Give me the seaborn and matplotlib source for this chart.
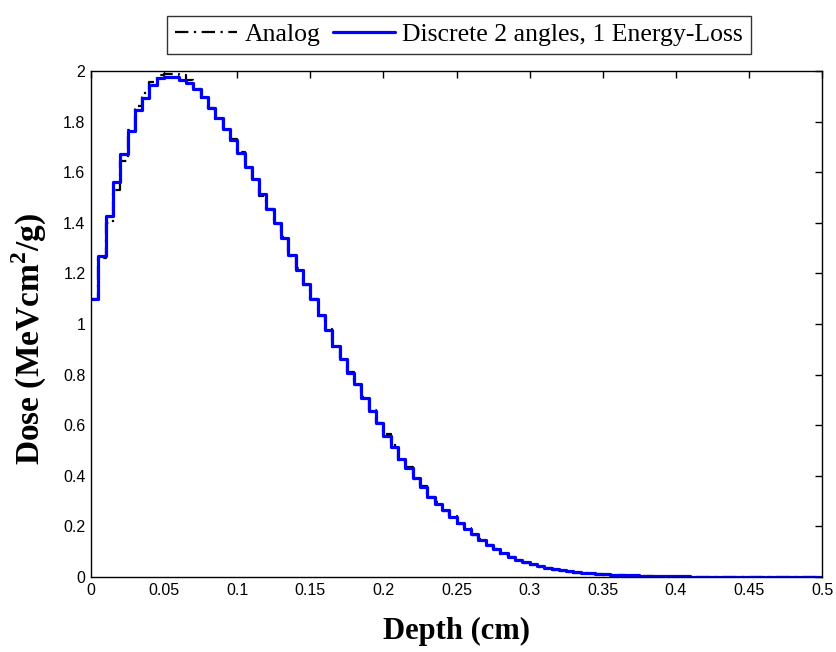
import numpy as np
import pandas as pd
import matplotlib
matplotlib.use("Agg")
import matplotlib.pyplot as plt
import seaborn as sns

# ---- data (bin values, bin width 0.005 cm, 100 bins from 0 to 0.5) ----
bin_width = 0.005
discrete = [
    1.100, 1.270, 1.425, 1.562, 1.672, 1.762, 1.846, 1.895, 1.946, 1.972,
    1.978, 1.975, 1.966, 1.952, 1.928, 1.898, 1.852, 1.816, 1.772, 1.726,
    1.675, 1.622, 1.572, 1.512, 1.454, 1.398, 1.340, 1.272, 1.215, 1.160,
    1.097, 1.035, 0.975, 0.915, 0.862, 0.808, 0.762, 0.708, 0.655, 0.610,
    0.557, 0.515, 0.465, 0.429, 0.390, 0.354, 0.318, 0.290, 0.263, 0.237,
    0.212, 0.190, 0.168, 0.147, 0.128, 0.111, 0.095, 0.081, 0.069, 0.058,
    0.050, 0.042, 0.036, 0.031, 0.026, 0.022, 0.019, 0.016, 0.014, 0.012,
    0.010, 0.009, 0.008, 0.007, 0.006, 0.005, 0.003, 0.002, 0.002, 0.002,
    0.002, 0.002, 0.001, 0.001, 0.001, 0.001, 0.001, 0.001, 0.001, 0.001,
    0.001, 0.001, 0.001, 0.001, 0.001, 0.001, 0.001, 0.001, 0.001, 0.001,
]
analog = [
    1.100, 1.260, 1.400, 1.530, 1.645, 1.765, 1.860, 1.915, 1.955, 1.985,
    1.990, 1.990, 1.985, 1.965, 1.930, 1.895, 1.855, 1.812, 1.770, 1.730,
    1.680, 1.620, 1.575, 1.505, 1.456, 1.395, 1.345, 1.270, 1.220, 1.155,
    1.100, 1.030, 0.980, 0.910, 0.865, 0.812, 0.760, 0.712, 0.660, 0.610,
    0.565, 0.520, 0.462, 0.435, 0.388, 0.360, 0.315, 0.295, 0.262, 0.240,
    0.210, 0.192, 0.165, 0.150, 0.126, 0.112, 0.092, 0.080, 0.066, 0.056,
    0.048, 0.040, 0.034, 0.028, 0.024, 0.020, 0.017, 0.014, 0.012, 0.010,
    0.008, 0.007, 0.006, 0.005, 0.004, 0.003, 0.002, 0.001, 0.001, 0.001,
    0.001, 0.001, 0.001, 0.001, 0.001, 0.001, 0.001, 0.001, 0.000, 0.000,
    0.000, 0.000, 0.000, 0.000, 0.000, 0.000, 0.000, 0.000, 0.000, 0.000,
]
series_names = ["Analog", "Discrete 2 angles, 1 Energy-Loss"]
x_ticks = [0, 0.05, 0.1, 0.15, 0.2, 0.25, 0.3, 0.35, 0.4, 0.45, 0.5]
x_ticklabels = ["0", "0.05", "0.1", "0.15", "0.2", "0.25", "0.3", "0.35", "0.4", "0.45", "0.5"]
y_ticks = [0, 0.2, 0.4, 0.6, 0.8, 1.0, 1.2, 1.4, 1.6, 1.8, 2.0]
y_ticklabels = ["0", "0.2", "0.4", "0.6", "0.8", "1", "1.2", "1.4", "1.6", "1.8", "2"]

# ---- build long table: step-post with closing edge at 0.5 ----
n = len(discrete)
edges = np.arange(n + 1) * bin_width
rows = []
for name, vals in zip(series_names, [analog, discrete]):
    v = list(vals) + [vals[-1]]
    rows.append(pd.DataFrame({"Depth": edges, "Dose": v, "series": name}))
df = pd.concat(rows, ignore_index=True)

sns.set_style("white")
plt.rcParams["font.family"] = ["Liberation Sans", "DejaVu Sans"]
plt.rcParams["text.color"] = "black"
plt.rcParams["axes.labelcolor"] = "black"
plt.rcParams["mathtext.fontset"] = "custom"
plt.rcParams["mathtext.rm"] = "Liberation Serif"
plt.rcParams["mathtext.bf"] = "Liberation Serif:bold"

fig = plt.figure(figsize=(8.36, 6.52), dpi=100)
ax = fig.add_axes([91 / 836, 1 - 577 / 652, (822 - 91) / 836, (577 - 71) / 652])

sns.lineplot(data=df[df.series == series_names[0]], x="Depth", y="Dose",
             ax=ax, color="black", linewidth=1.6, drawstyle="steps-post",
             label=series_names[0], estimator=None, sort=False)
ax.lines[-1].set_linestyle((0, (6, 2.5, 1, 2.5)))
sns.lineplot(data=df[df.series == series_names[1]], x="Depth", y="Dose",
             ax=ax, color="#0000ff", linewidth=2.3, drawstyle="steps-post",
             label=series_names[1], estimator=None, sort=False)

ax.set_xlim(0, 0.5)
ax.set_ylim(0, 2)
ax.set_xticks(x_ticks)
ax.set_xticklabels(x_ticklabels)
ax.set_yticks(y_ticks)
ax.set_yticklabels(y_ticklabels)
ax.tick_params(direction="in", length=5, width=1, top=True, right=True,
               labelsize=11.5, colors="black", pad=4)
for s in ax.spines.values():
    s.set_visible(True)
    s.set_color("black")
    s.set_linewidth(1.0)

ax.set_xlabel("Depth (cm)", fontfamily="Liberation Serif", fontweight="bold",
              fontsize=22, color="black", labelpad=14)
ax.set_ylabel(r"Dose (MeVcm$^{\mathbf{2}}$/g)", fontfamily="Liberation Serif",
              fontweight="bold", fontsize=24, color="black")
ax.yaxis.set_label_coords(-0.058, 0.47)

ax.get_legend().remove()
handles, labels = ax.get_legend_handles_labels()
leg = fig.legend(handles, labels, loc="center", ncol=2,
                 bbox_to_anchor=(459 / 836, 1 - 35 / 652),
                 frameon=True, fancybox=False, edgecolor="black",
                 prop={"family": "Liberation Serif", "size": 18.5},
                 handlelength=2.4, columnspacing=0.5, handletextpad=0.3,
                 borderpad=0.3)
leg.get_frame().set_linewidth(1.0)

fig.savefig("out.png", dpi=100, facecolor="white")
